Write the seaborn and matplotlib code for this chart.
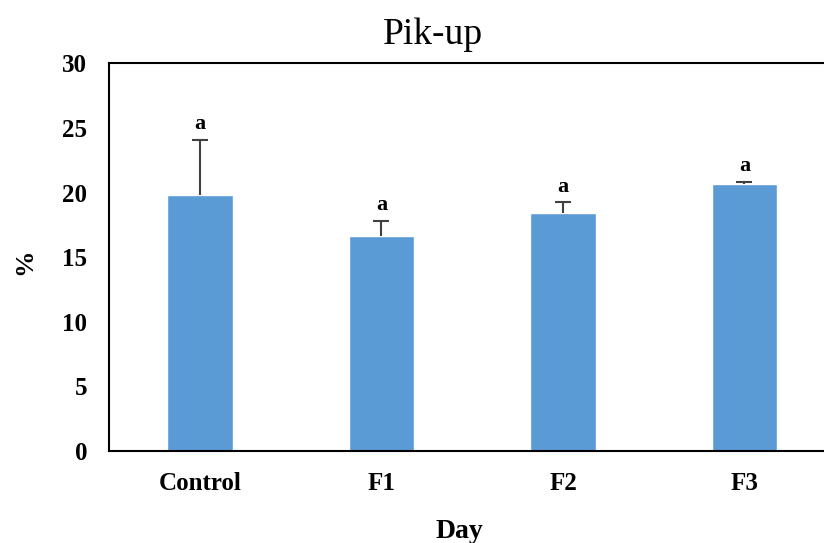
import numpy as np
import pandas as pd
import seaborn as sns
import matplotlib
matplotlib.use('Agg')
import matplotlib.pyplot as plt

days = ['Control', 'F1', 'F2', 'F3']
values = [19.8, 16.6, 18.4, 20.7]
errors = [4.3, 1.2, 0.85, 0.12]
letters = ['a', 'a', 'a', 'a']

sns.set_style('white')
plt.rcParams['font.family'] = ['Liberation Serif', 'DejaVu Serif']
plt.rcParams['text.color'] = 'black'
plt.rcParams['xtick.color'] = 'black'
plt.rcParams['ytick.color'] = 'black'

df = pd.DataFrame({'Day': days, 'pct': values})

fig = plt.figure(figsize=(8.24, 5.43), dpi=100)
ax = fig.add_axes([0.1326, 0.1694, 0.881, 0.714])

sns.barplot(data=df, x='Day', y='pct', color='#5B9BD5', width=0.36,
            saturation=1, errorbar=None, ax=ax)

# solo la parte superiore dell'errore
eb = ax.errorbar(range(len(days)), values,
                 yerr=[np.zeros(len(errors)), errors],
                 fmt='none', ecolor='#404040', elinewidth=1.5, capsize=6, capthick=1.5)
eb[1][0].set_visible(False)  # niente cap in basso

for i, (v, e, l) in enumerate(zip(values, errors, letters)):
    ax.annotate(l, (i, v + e), xytext=(0, 4), textcoords='offset points',
                ha='center', va='bottom', fontsize=16, fontweight='bold')

ax.set_xlim(-0.5, 3.5)
ax.set_ylim(0, 30)
ax.set_yticks(range(0, 31, 5))
ax.tick_params(axis='both', length=0, labelsize=18)
ax.tick_params(axis='y', pad=16)
ax.tick_params(axis='x', pad=15)
for lab in ax.get_xticklabels() + ax.get_yticklabels():
    lab.set_fontweight('bold')

ax.set_xlabel('')
ax.set_ylabel('')
fig.text(25 / 824, 1 - 262 / 543, '%', ha='center', va='center', rotation=90,
         fontsize=19, fontweight='bold')
fig.text(459 / 824, 1 - 531 / 543, 'Day', ha='center', va='center',
         fontsize=20, fontweight='bold')

for s in ax.spines.values():
    s.set_color('black')
    s.set_linewidth(1.5)

fig.text(433 / 824, 1 - 35 / 543, 'Pik-up', ha='center', va='center', fontsize=27)

fig.savefig('out.png', dpi=100)
